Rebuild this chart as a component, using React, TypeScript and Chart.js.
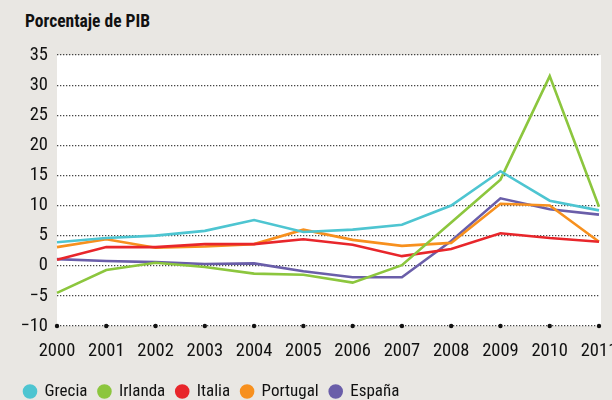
import { useEffect, useRef } from "react";
import { Chart, registerables } from "chart.js";
Chart.register(...registerables);

const years = ["2000", "2001", "2002", "2003", "2004", "2005", "2006", "2007", "2008", "2009", "2010", "2011"];
const grecia = [3.9, 4.6, 5.0, 5.8, 7.6, 5.6, 6.0, 6.8, 10.0, 15.7, 10.8, 9.2];
const irlanda = [-4.5, -0.7, 0.5, -0.2, -1.3, -1.5, -2.8, 0.1, 7.2, 14.3, 31.5, 9.8];
const italia = [1.0, 3.1, 3.1, 3.6, 3.6, 4.4, 3.5, 1.6, 2.8, 5.4, 4.6, 4.0];
const portugal = [3.1, 4.4, 3.0, 3.2, 3.6, 6.0, 4.3, 3.3, 3.8, 10.3, 10.0, 4.0];
const espana = [1.1, 0.8, 0.6, 0.3, 0.4, -0.9, -1.9, -1.9, 4.1, 11.2, 9.4, 8.5];
const yTicks = [-10, -5, 0, 5, 10, 15, 20, 25, 30, 35];

const FONT = '"Roboto Condensed", "DejaVu Sans Condensed", sans-serif';

const bgPlugin = {
  id: "plotBg",
  beforeDraw(chart: any) {
    const { ctx, chartArea } = chart;
    ctx.save();
    ctx.fillStyle = "#ffffff";
    ctx.fillRect(chartArea.left, chartArea.top, chartArea.right - chartArea.left + 2, chartArea.bottom - chartArea.top);
    ctx.restore();
  },
};

const dotsPlugin = {
  id: "axisDots",
  afterDatasetsDraw(chart: any) {
    const { ctx } = chart;
    const x = chart.scales.x;
    const y = chart.scales.y;
    const py = y.getPixelForValue(-10);
    ctx.save();
    ctx.fillStyle = "#111";
    for (let i = 0; i < years.length; i++) {
      const px = x.getPixelForTick(i);
      ctx.beginPath();
      ctx.arc(px, py, 2.2, 0, Math.PI * 2);
      ctx.fill();
    }
    ctx.restore();
  },
};

export default function App() {
  const ref = useRef<HTMLCanvasElement>(null);
  useEffect(() => {
    if (!ref.current) return;
    const mk = (label: string, data: number[], color: string) => ({
      label,
      data,
      borderColor: color,
      backgroundColor: color,
      borderWidth: 2.6,
      pointRadius: 0,
      tension: 0,
      fill: false,
    });
    const chart = new Chart(ref.current, {
      type: "line",
      data: {
        labels: years,
        datasets: [
          mk("Grecia", grecia, "#4ec5d1"),
          mk("Irlanda", irlanda, "#8cc63e"),
          mk("Italia", italia, "#e8262b"),
          mk("Portugal", portugal, "#f7901e"),
          mk("España", espana, "#6a5ea9"),
        ],
      },
      options: {
        animation: false,
        responsive: false,
        maintainAspectRatio: false,
        layout: { padding: { left: 13, right: 13, top: 55, bottom: -10 } },
        plugins: {
          title: { display: false },
          tooltip: { enabled: false },
          legend: {
            position: "bottom",
            align: "start",
            labels: {
              usePointStyle: true,
              pointStyle: "circle",
              boxWidth: 12,
              boxHeight: 8.5,
              pointStyleWidth: 12,
              padding: 11,
              color: "#111",
              font: { family: FONT, size: 17 },
            },
          },
        },
        scales: {
          x: {
            offset: false,
            grid: { display: false, drawTicks: false },
            border: { display: false },
            ticks: {
              color: "#111",
              font: { family: FONT, size: 18.5 },
              padding: 14,
              maxRotation: 0,
              autoSkip: false,
            },
            afterFit(scale: any) {
              scale.paddingRight = 0;
              scale.paddingLeft = 0;
              scale.height = 46;
            },
          },
          y: {
            min: -10,
            max: 35,
            afterBuildTicks(scale: any) {
              scale.ticks = yTicks.map((v) => ({ value: v }));
            },
            grid: {
              color: "#444",
              lineWidth: 1.2,
              drawTicks: false,
              borderDash: [1.3, 1.7],
            },
            border: { display: false, dash: [1.3, 1.7] },
            ticks: {
              color: "#111",
              font: { family: FONT, size: 18.5 },
              padding: 9,
              callback: (v: any) => (Number(v) < 0 ? "\u2212" + Math.abs(Number(v)) : String(v)),
            },
            afterFit(scale: any) {
              scale.width = 44;
            },
          },
        },
      },
      plugins: [bgPlugin, dotsPlugin],
    } as any);
    return () => chart.destroy();
  }, []);
  return (
    <div style={{ position: "absolute", left: 0, top: 0, width: 612, height: 400, background: "#e9e7e3", overflow: "hidden" }}>
      <div
        style={{
          position: "absolute",
          left: 25,
          top: 11,
          fontFamily: FONT,
          fontWeight: "bold",
          fontSize: 17.5,
          color: "#111",
          lineHeight: "20px",
        }}
      >
        Porcentaje de PIB
      </div>
      <canvas ref={ref} width={612} height={400} style={{ position: "absolute", left: 0, top: 0 }} />
    </div>
  );
}
